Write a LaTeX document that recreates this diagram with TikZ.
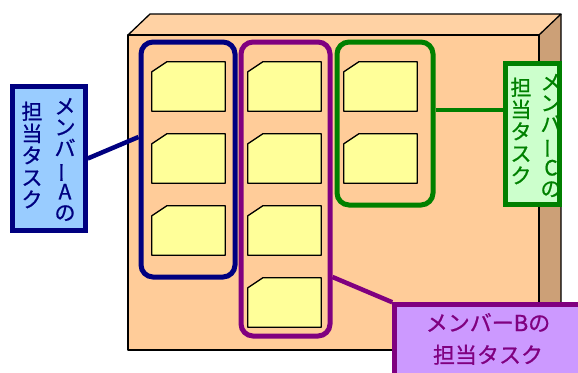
\documentclass[tikz,border=0pt]{standalone}
\usepackage{fontspec}
\newfontfamily\jp[FakeBold=0.8]{Noto Sans CJK JP}
\usetikzlibrary{calc}
\definecolor{peach}{HTML}{FFCC99}
\definecolor{peachtop}{HTML}{FFD2A4}
\definecolor{tan}{HTML}{CCA077}
\definecolor{cardyellow}{HTML}{FFFF99}
\definecolor{navyc}{HTML}{000080}
\definecolor{purplec}{HTML}{800080}
\definecolor{greenc}{HTML}{008000}
\definecolor{lblue}{HTML}{99CCFF}
\definecolor{lgreen}{HTML}{CCFFCC}
\definecolor{lpurple}{HTML}{CC99FF}
\tikzset{
  boxline/.style={draw=black, line width=1.3pt, line join=round},
  frm/.style={rectangle, draw, line width=5pt, rounded corners=12pt, inner sep=0pt},
  cardbox/.style={rectangle, minimum width=73pt, minimum height=49pt, inner sep=0pt},
  cardline/.style={draw=black, fill=cardyellow, line width=1.3pt, line join=round},
  lbl/.style={rectangle, line width=4.5pt, inner sep=0pt},
  vtxt/.style={align=center, inner sep=0pt, font=\jp\fontsize{21}{21}\selectfont},
  vtxtb/.style={align=center, inner sep=0pt, font=\jp\fontsize{21}{22}\selectfont},
  htxt/.style={align=center, inner sep=0pt, font=\jp\fontsize{22}{32}\selectfont},
  conn/.style={line width=4.5pt},
}
\newcommand\cardat[3]{%
  \node[cardbox] (#1) at (#2,#3) {};
  \draw[cardline] (#1.south west) -- ([yshift=-10pt]#1.north west) -- ([xshift=15pt]#1.north west) -- (#1.north east) -- (#1.south east) -- cycle;}
\newcommand\vbar{\rotatebox[origin=c]{90}{ー}}
\begin{document}
\begin{tikzpicture}[x=1pt,y=-1pt]
\useasboundingbox (0,0) rectangle (578,372);
\clip (0,0) rectangle (578,372);
% cabinet
\fill[peachtop] (128,35) -- (150,14) -- (561,14) -- (539,35) -- cycle;
\fill[tan] (539,35) -- (561,14) -- (561,329) -- (539,350) -- cycle;
\fill[peach] (128,35) rectangle (539,350);
\draw[boxline] (128,35) -- (150,14) -- (561,14) -- (539,35);
\draw[boxline] (561,14) -- (561,329) -- (539,350);
\draw[boxline] (128,35) rectangle (539,350);
% frames
\node[frm, draw=navyc, minimum width=94pt, minimum height=235pt] (fa) at (188,159.5) {};
\node[frm, draw=purplec, minimum width=89pt, minimum height=294pt] (fb) at (285.5,189) {};
\node[frm, draw=greenc, minimum width=96pt, minimum height=163pt] (fc) at (385,123.5) {};
% cards
\cardat{a1}{188.5}{86.5}
\cardat{a2}{188.5}{158.5}
\cardat{a3}{188.5}{230.5}
\cardat{b1}{284.5}{86.5}
\cardat{b2}{284.5}{158.5}
\cardat{b3}{284.5}{230.5}
\cardat{b4}{284.5}{302.5}
\cardat{c1}{380.5}{86.5}
\cardat{c2}{380.5}{158.5}
% labels
\node[lbl, draw=navyc, fill=lblue, minimum width=73pt, minimum height=144pt] (la) at (49,158.5) {};
\node[lbl, draw=greenc, fill=lgreen, minimum width=54pt, minimum height=141pt] (lc) at (532.5,134) {};
\node[lbl, draw=purplec, fill=lpurple, minimum width=200pt, minimum height=86pt] (lb) at (494.5,347.5) {};
% connectors
\draw[conn, navyc] (la.east) -- ([yshift=22.5pt]fa.west);
\draw[conn, greenc] ([yshift=13.5pt]fc.east) -- ([yshift=13.5pt]fc.east -| lc.west);
\draw[conn, purplec] ([yshift=-88pt]fb.east) -- (lb.north west);
% label texts
\node[vtxt, text=navyc] (ta1) at (65,159.5) {メ\\ン\\バ\\\vbar\\A\\の};
\node[vtxtb, text=navyc] (ta2) at (32,155) {担\\当\\タ\\ス\\ク};
\node[vtxt, text=greenc] (tc1) at (551,135.5) {メ\\ン\\バ\\\vbar\\C\\の};
\node[vtxtb, text=greenc] (tc2) at (521,131) {担\\当\\タ\\ス\\ク};
\node[htxt, text=purplec] (tb) at (488,339) {メンバーBの\\担当タスク};
\end{tikzpicture}
\end{document}
